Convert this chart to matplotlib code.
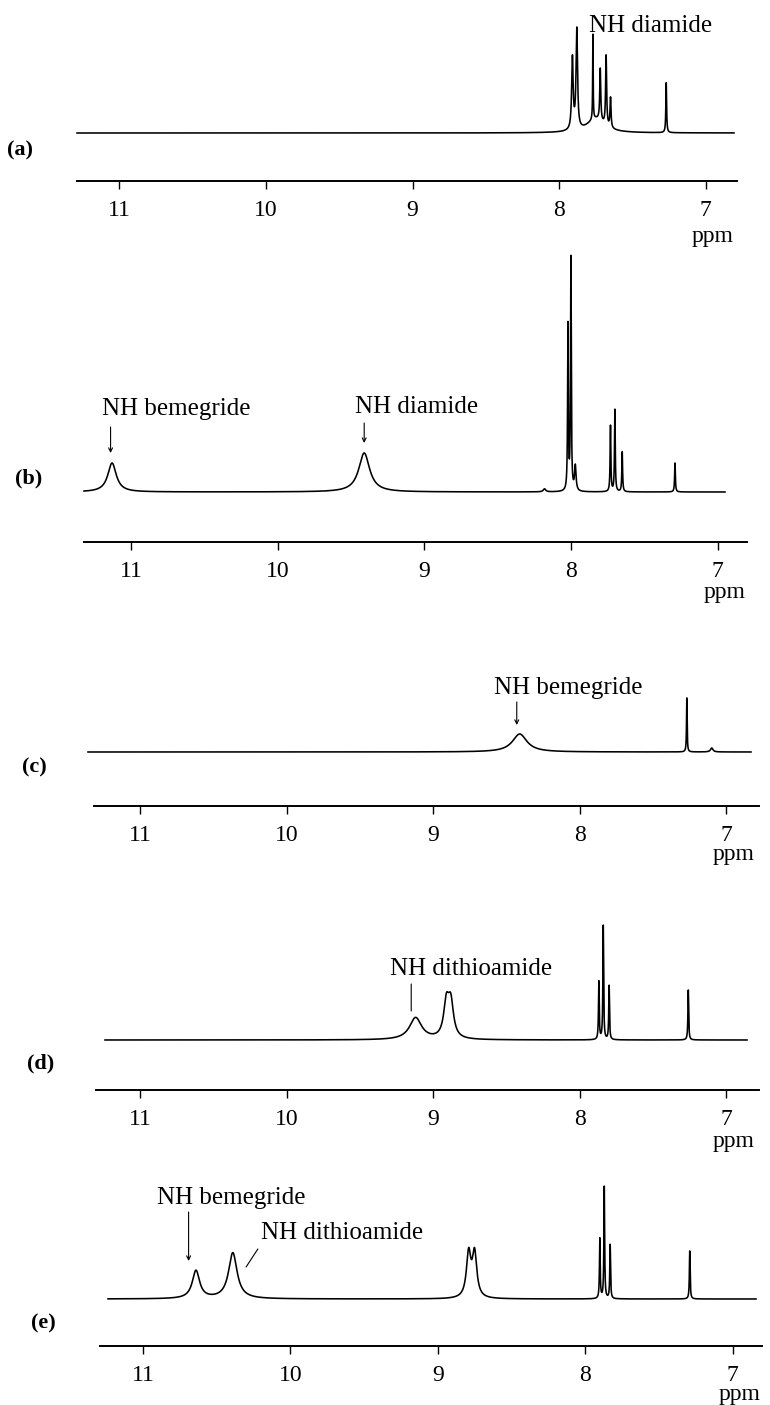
import numpy as np
import matplotlib
matplotlib.use("Agg")
import matplotlib.pyplot as plt

plt.rcParams['font.family'] = ['Liberation Serif', 'DejaVu Serif']

W, H = 770, 1405

# peak lists: (ppm, height above baseline, half width in ppm)
peaks_a = [(7.91, 72, 0.006), (7.88, 100, 0.006), (7.77, 85, 0.002), (7.72, 52, 0.004),
           (7.68, 70, 0.004), (7.65, 30, 0.004), (7.75, 14, 0.07), (7.27, 50, 0.003)]
peaks_b = [(11.13, 29, 0.035), (9.41, 39, 0.045), (8.18, 3, 0.01), (8.02, 165, 0.003),
           (8.00, 232, 0.003), (7.97, 25, 0.006), (7.73, 66, 0.003), (7.70, 82, 0.003),
           (7.65, 40, 0.003), (7.29, 29, 0.003)]
peaks_c = [(8.41, 18, 0.06), (7.27, 54, 0.0025), (7.10, 4, 0.01)]
peaks_d = [(9.12, 22, 0.05), (8.91, 34, 0.022), (8.88, 34, 0.022), (7.87, 58, 0.003),
           (7.84, 114, 0.003), (7.80, 54, 0.003), (7.26, 50, 0.003)]
peaks_e = [(10.64, 28, 0.03), (10.39, 46, 0.035), (8.79, 44, 0.018), (8.75, 44, 0.018),
           (7.90, 60, 0.003), (7.87, 112, 0.003), (7.83, 54, 0.003), (7.29, 48, 0.003)]

panel_names = ["(a)", "(b)", "(c)", "(d)", "(e)"]
all_peaks = [peaks_a, peaks_b, peaks_c, peaks_d, peaks_e]
tick_values = [11, 10, 9, 8, 7]

# annotations: (text, text ppm, text baseline height, arrow: ppm from, height from, ppm to, height to, style)
notes = [
    [("NH diamide", 7.38, 101, None)],
    [("NH bemegride", 10.69, 77, (11.14, 65, 11.14, 39, "->")),
     ("NH diamide", 9.05, 79, (9.41, 69, 9.41, 49, "->"))],
    [("NH bemegride", 8.08, 58, (8.43, 50, 8.43, 27, "->"))],
    [("NH dithioamide", 8.74, 65, (9.15, 56, 9.15, 29, "-"))],
    [("NH bemegride", 10.40, 95, (10.69, 87, 10.69, 38, "->")),
     ("NH dithioamide", 9.65, 60, (10.22, 50, 10.30, 32, "-"))],
]

# layout in pixels: baseline y, axis line y, x of 11 ppm, px per ppm, axis left, axis right,
# spectrum left, spectrum right, room above baseline, label x, label y, ppm baseline below axis
layout = [
    (133, 181, 119.4, 146.6, 77, 737, 77, 734, 125, 20, 150, 61),
    (492, 542, 131.1, 146.6, 84, 747, 84, 725, 240, 29, 478, 56),
    (752, 806, 140.0, 146.6, 94, 759, 88, 751, 120, 34, 767, 54),
    (1040, 1090, 140.0, 146.6, 96, 759, 105, 747, 125, 41, 1063, 57),
    (1299, 1346, 142.9, 147.4, 100, 762, 108, 756, 125, 43, 1323, 54),
]


def spectrum(x, peaks):
    y = np.zeros_like(x)
    for p, h, w in peaks:
        y += h * w**2 / ((x - p)**2 + w**2)
    return y


fig = plt.figure(figsize=(W / 100, H / 100), dpi=100)

for name, peaks, note, lay in zip(panel_names, all_peaks, notes, layout):
    base, axis_y, x11, scale, left, right, sl, sr, room, lab_x, lab_y, ppm_off = lay
    ax = fig.add_axes([left / W, 1 - axis_y / H, (right - left) / W, (axis_y - base + room) / H])
    ax.set_xlim(11 + (x11 - left) / scale, 11 - (right - x11) / scale)
    ax.set_ylim(-(axis_y - base), room)

    x = np.linspace(11 + (x11 - sl) / scale, 11 - (sr - x11) / scale, 30000)
    ax.plot(x, spectrum(x, peaks), color="black", lw=1.15, clip_on=False)

    for s in ["top", "left", "right"]:
        ax.spines[s].set_visible(False)
    ax.spines["bottom"].set_linewidth(1.4)
    ax.set_yticks([])
    ax.set_xticks(tick_values)
    ax.set_xticklabels([str(t) for t in tick_values])
    ax.tick_params(axis="x", direction="out", length=6, width=1.0, pad=8, labelsize=17)
    ax.patch.set_visible(False)

    ax.annotate("ppm", xy=(7, 0), xycoords=("data", "axes fraction"),
                xytext=(7, -ppm_off), textcoords="offset pixels",
                ha="center", va="baseline", fontsize=17)

    for txt, tx, ty, arr in note:
        ax.text(tx, ty, txt, ha="center", va="baseline", fontsize=18)
        if arr is not None:
            x0, y0, x1, y1, style = arr
            ax.annotate("", xy=(x1, y1), xytext=(x0, y0),
                        arrowprops=dict(arrowstyle=style, lw=0.8, color="black",
                                        mutation_scale=7, shrinkA=0, shrinkB=0))

    fig.text(lab_x / W, 1 - lab_y / H, name, ha="center", va="center",
             fontsize=16, fontweight="bold")

fig.savefig("out.png", dpi=100, facecolor="white")
